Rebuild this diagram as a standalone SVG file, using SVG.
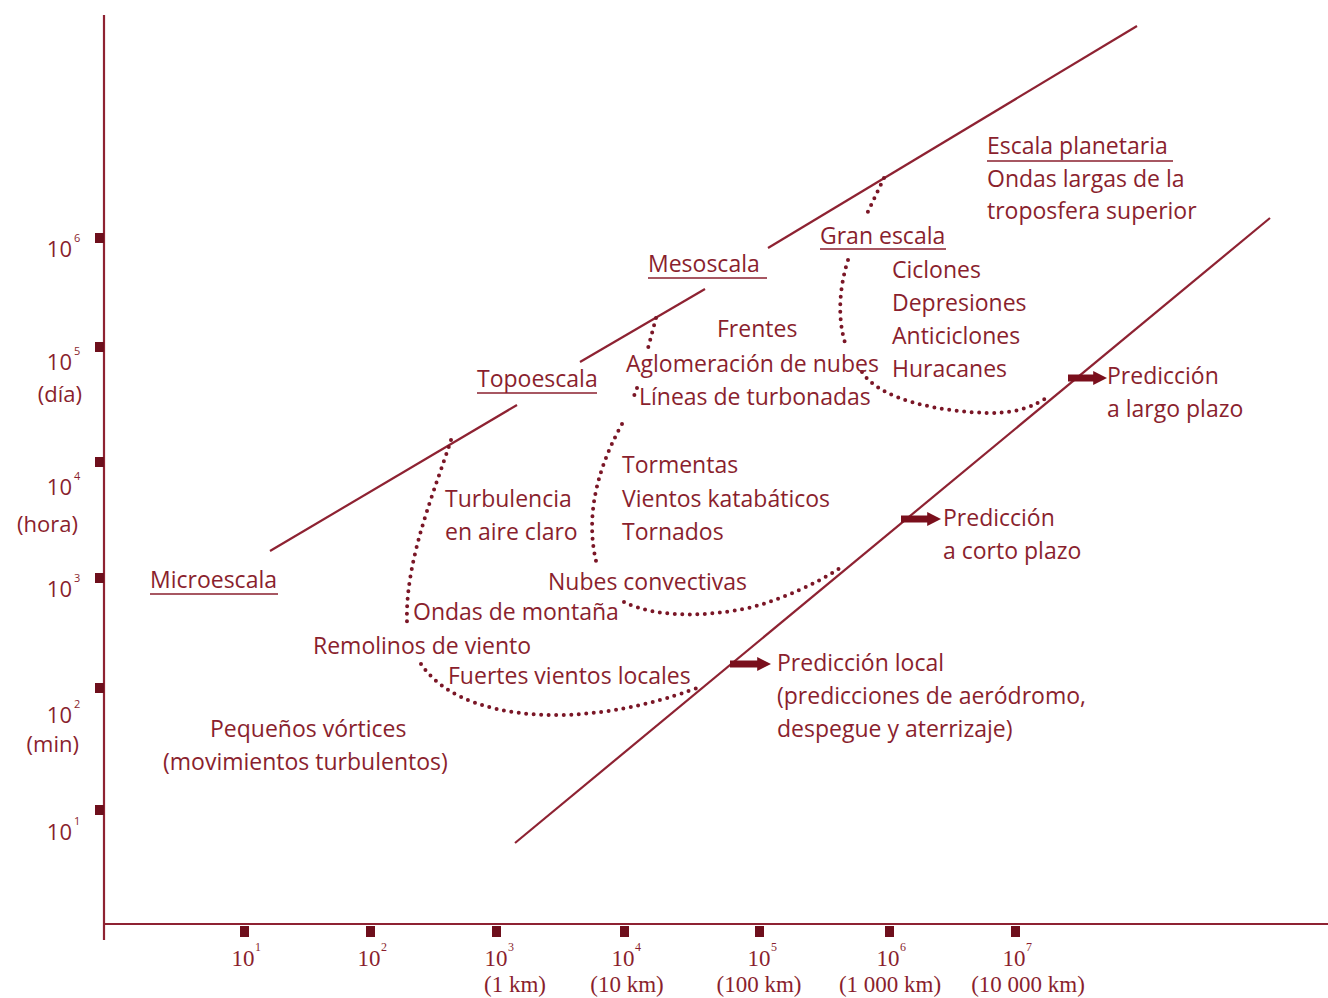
<svg xmlns="http://www.w3.org/2000/svg" width="1328" height="998" viewBox="0 0 1328 998">
<style>
.t{font-family:"Open Sans","Liberation Sans",sans-serif;font-size:23px;fill:#8a1f2e}
.ax{font-family:"Open Sans","Liberation Sans",sans-serif;font-size:22px;fill:#8a1f2e}
.ay{text-anchor:end}
.sup{font-size:11px}
.xl{font-family:"Liberation Serif","Times New Roman",serif;font-size:23px;fill:#8a1f2e;text-anchor:middle}
.xs{font-family:"Liberation Serif",serif;font-size:12px;fill:#8a1f2e}
.ln{stroke:#8e2232;stroke-width:2.2;fill:none}
.ul{stroke:#8a1f2e;stroke-width:1.6}
.dot{stroke:#7a1626;stroke-width:4;stroke-linecap:round;stroke-dasharray:0 7.5;fill:none}
.tk{fill:#6e0f1c}
.arr{stroke:#7a0f1c;stroke-width:7}
</style>
<defs>
<marker id="ah" viewBox="0 0 10 10" refX="2" refY="5" markerWidth="2" markerHeight="2" orient="auto" markerUnits="strokeWidth">
<path d="M0,0 L10,5 L0,10 Z" fill="#7a0f1c"/>
</marker>
</defs>
<rect width="1328" height="998" fill="#ffffff"/>

<g id="axes">
<line class="ln" x1="104" y1="15" x2="104" y2="940" stroke-width="2"/>
<line class="ln" x1="103" y1="924" x2="1328" y2="924" stroke-width="2.4"/>
<rect class="tk" x="95" y="233" width="9" height="10"/>
<rect class="tk" x="95" y="342" width="9" height="10"/>
<rect class="tk" x="95" y="457" width="9" height="10"/>
<rect class="tk" x="95" y="573" width="9" height="10"/>
<rect class="tk" x="95" y="683" width="9" height="10"/>
<rect class="tk" x="95" y="805" width="9" height="10"/>
<text class="ax ay" x="72" y="257">10</text><text class="ax sup" x="74" y="242">6</text>
<text class="ax ay" x="72" y="370">10</text><text class="ax sup" x="74" y="355">5</text>
<text class="ax ay" x="82" y="402">(día)</text>
<text class="ax ay" x="72" y="495">10</text><text class="ax sup" x="74" y="480">4</text>
<text class="ax ay" x="78" y="532">(hora)</text>
<text class="ax ay" x="72" y="597">10</text><text class="ax sup" x="74" y="582">3</text>
<text class="ax ay" x="72" y="723">10</text><text class="ax sup" x="74" y="708">2</text>
<text class="ax ay" x="79" y="752">(min)</text>
<text class="ax ay" x="72" y="840">10</text><text class="ax sup" x="74" y="825">1</text>

<rect class="tk" x="240" y="926" width="9" height="11"/>
<rect class="tk" x="366" y="926" width="9" height="11"/>
<rect class="tk" x="492" y="926" width="9" height="11"/>
<rect class="tk" x="620" y="926" width="9" height="11"/>
<rect class="tk" x="755" y="926" width="9" height="11"/>
<rect class="tk" x="885" y="926" width="9" height="11"/>
<rect class="tk" x="1011" y="926" width="9" height="11"/>
<text class="xl" x="243" y="966">10</text><text class="xs" x="255" y="951">1</text>
<text class="xl" x="369" y="966">10</text><text class="xs" x="381" y="951">2</text>
<text class="xl" x="496" y="966">10</text><text class="xs" x="508" y="951">3</text>
<text class="xl" x="623" y="966">10</text><text class="xs" x="635" y="951">4</text>
<text class="xl" x="759" y="966">10</text><text class="xs" x="771" y="951">5</text>
<text class="xl" x="888" y="966">10</text><text class="xs" x="900" y="951">6</text>
<text class="xl" x="1014" y="966">10</text><text class="xs" x="1026" y="951">7</text>
<text class="xl" x="515" y="992">(1 km)</text>
<text class="xl" x="627" y="992">(10 km)</text>
<text class="xl" x="759" y="992">(100 km)</text>
<text class="xl" x="890" y="992">(1 000 km)</text>
<text class="xl" x="1028" y="992">(10 000 km)</text>
</g>

<g id="connectors">
<line class="ln" x1="270" y1="551" x2="517" y2="405"/>
<line class="ln" x1="580" y1="362" x2="705" y2="289"/>
<line class="ln" x1="768" y1="248" x2="1137" y2="26"/>
<line class="ln" x1="515" y1="843" x2="1270" y2="218"/>
<path class="dot" d="M451,440 C435,490 405,560 407,622"/>
<path class="dot" d="M421,664 C445,700 500,716 560,715 C620,714 670,698 700,687"/>
<path class="dot" d="M656,318 L647,352"/>
<path class="dot" d="M637,388 L634,396"/>
<path class="dot" d="M622,424 Q580,500 597,565"/>
<path class="dot" d="M624,602 C660,620 720,616 760,605 C800,592 825,578 840,568"/>
<path class="dot" d="M884,178 L865,218"/>
<path class="dot" d="M848,260 C838,292 838,322 846,346"/>
<path class="dot" d="M862,372 C880,400 940,412 990,413 C1020,413 1035,405 1048,397"/>
<line class="arr" x1="730" y1="664" x2="760" y2="664" marker-end="url(#ah)"/>
<line class="arr" x1="901" y1="519" x2="930" y2="519" marker-end="url(#ah)"/>
<line class="arr" x1="1068" y1="378" x2="1096" y2="378" marker-end="url(#ah)"/>
</g>

<g id="microescala">
<text class="t" x="150" y="588">Microescala</text>
<line class="ul" x1="150" y1="594" x2="278" y2="594"/>
<text class="t" x="210" y="737">Pequeños vórtices</text>
<text class="t" x="163" y="770">(movimientos turbulentos)</text>
</g>
<g id="topoescala">
<text class="t" x="477" y="387">Topoescala</text>
<line class="ul" x1="477" y1="393" x2="597" y2="393"/>
<text class="t" x="445" y="507">Turbulencia</text>
<text class="t" x="445" y="540">en aire claro</text>
<text class="t" x="413" y="620">Ondas de montaña</text>
<text class="t" x="313" y="654">Remolinos de viento</text>
<text class="t" x="448" y="684">Fuertes vientos locales</text>
</g>
<g id="mesoscala">
<text class="t" x="648" y="272">Mesoscala</text>
<line class="ul" x1="648" y1="278" x2="767" y2="278"/>
<text class="t" x="717" y="337">Frentes</text>
<text class="t" x="626" y="372">Aglomeración de nubes</text>
<text class="t" x="639" y="405">Líneas de turbonadas</text>
<text class="t" x="622" y="473">Tormentas</text>
<text class="t" x="622" y="507">Vientos katabáticos</text>
<text class="t" x="622" y="540">Tornados</text>
<text class="t" x="548" y="590">Nubes convectivas</text>
</g>
<g id="gran-escala">
<text class="t" x="820" y="244">Gran escala</text>
<line class="ul" x1="820" y1="249" x2="946" y2="249"/>
<text class="t" x="892" y="278">Ciclones</text>
<text class="t" x="892" y="311">Depresiones</text>
<text class="t" x="892" y="344">Anticiclones</text>
<text class="t" x="892" y="377">Huracanes</text>
</g>
<g id="escala-planetaria">
<text class="t" x="987" y="154">Escala  planetaria</text>
<line class="ul" x1="987" y1="161" x2="1173" y2="161"/>
<text class="t" x="987" y="187">Ondas largas de la</text>
<text class="t" x="987" y="219">troposfera superior</text>
</g>
<g id="prediccion-local">
<text class="t" x="777" y="671">Predicción local</text>
<text class="t" x="777" y="704">(predicciones de aeródromo,</text>
<text class="t" x="777" y="737">despegue y aterrizaje)</text>
</g>
<g id="prediccion-corto">
<text class="t" x="943" y="526">Predicción</text>
<text class="t" x="943" y="559">a corto plazo</text>
</g>
<g id="prediccion-largo">
<text class="t" x="1107" y="384">Predicción</text>
<text class="t" x="1107" y="417">a largo plazo</text>
</g>
</svg>
